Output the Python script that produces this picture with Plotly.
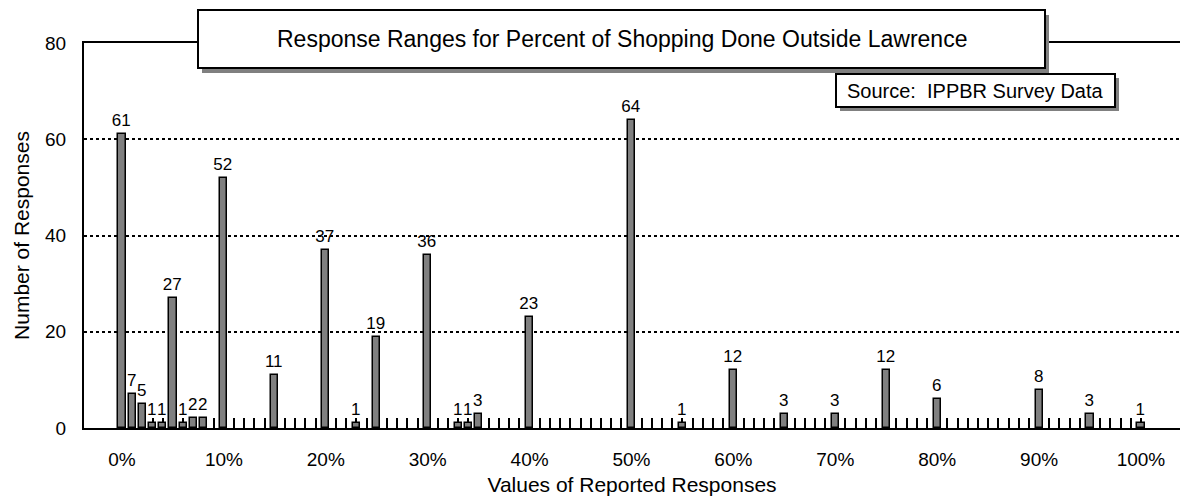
import plotly.graph_objects as go

# Data
values_pct = [0, 1, 2, 3, 4, 5, 6, 7, 8, 10, 15, 20, 23, 25, 30, 33, 34, 35, 40,
              50, 55, 60, 65, 70, 75, 80, 90, 95, 100]
counts = [61, 7, 5, 1, 1, 27, 1, 2, 2, 52, 11, 37, 1, 19, 36, 1, 1, 3, 23,
          64, 1, 12, 3, 3, 12, 6, 8, 3, 1]
tick_positions = list(range(0, 101))
tick_labels = [f"{v}%" if v % 10 == 0 else "" for v in tick_positions]
y_ticks = [0, 20, 40, 60, 80]

title_text = "Response Ranges for Percent of Shopping Done Outside Lawrence"
source_text = "Source:  IPPBR Survey Data"

FONT = "Liberation Sans, Arial, sans-serif"

fig = go.Figure()
fig.add_trace(go.Bar(
    x=values_pct, y=counts, width=0.7,
    marker=dict(color="#808080", line=dict(color="black", width=1.5)),
    text=[str(c) for c in counts], textposition="outside",
    constraintext="none",
    textfont=dict(size=17, color="black", family=FONT),
    outsidetextfont=dict(size=17, color="black", family=FONT),
    cliponaxis=False,
))

W, H = 1180, 498
L, R, T, B = 84, 0, 43, 70
pw, ph = W - L - R, H - T - B

def px(x):
    return (x - L) / pw

def py(y):
    return (H - B - y) / ph

shapes = []
def box(x0, y0, x1, y1, sdx, sdy):
    shapes.append(dict(type="rect", xref="paper", yref="paper",
                       x0=px(x0 + sdx), x1=px(x1 + sdx), y0=py(y1 + sdy), y1=py(y0 + sdy),
                       fillcolor="#808080", line=dict(width=0), layer="above"))
    shapes.append(dict(type="rect", xref="paper", yref="paper",
                       x0=px(x0), x1=px(x1), y0=py(y1), y1=py(y0),
                       fillcolor="white", line=dict(color="black", width=2), layer="above"))

box(198, 10, 1045, 68, 4, 5)
box(836, 74, 1115, 107, 4, 4)

annotations = [
    dict(text=title_text, xref="paper", yref="paper", x=px((198 + 1045) / 2), y=py(39),
         showarrow=False, xanchor="center", yanchor="middle",
         font=dict(size=23, color="black", family=FONT)),
    dict(text=source_text, xref="paper", yref="paper", x=px((836 + 1115) / 2), y=py(90.5),
         showarrow=False, xanchor="center", yanchor="middle",
         font=dict(size=20, color="black", family=FONT)),
]

fig.update_layout(
    width=W, height=H,
    margin=dict(l=L, r=R, t=T, b=B, pad=0),
    plot_bgcolor="white", paper_bgcolor="white",
    showlegend=False,
    shapes=shapes, annotations=annotations,
    font=dict(family=FONT, color="black"),
    xaxis=dict(
        range=[-3.73, 103.83], tickmode="array", tickvals=tick_positions, ticktext=tick_labels,
        ticks="inside", ticklen=10, tickwidth=1.5, tickcolor="black",
        showline=True, linecolor="black", linewidth=2, mirror=True,
        showgrid=False, zeroline=False, layer="below traces",
        tickfont=dict(size=19, color="black", family=FONT), ticklabelstandoff=13,
        title=dict(text="Values of Reported Responses", standoff=9,
                   font=dict(size=21, color="black", family=FONT)),
    ),
    yaxis=dict(
        range=[0, 80], tickmode="array", tickvals=y_ticks,
        showline=True, linecolor="black", linewidth=2,
        showgrid=True, gridcolor="black", gridwidth=1.5, griddash="dot",
        zeroline=False, ticks="", layer="below traces",
        tickfont=dict(size=19, color="black", family=FONT), ticklabelstandoff=12,
        title=dict(text="Number of Responses", standoff=10,
                   font=dict(size=21, color="black", family=FONT)),
    ),
    bargap=0,
)

fig.write_html("out.html")
